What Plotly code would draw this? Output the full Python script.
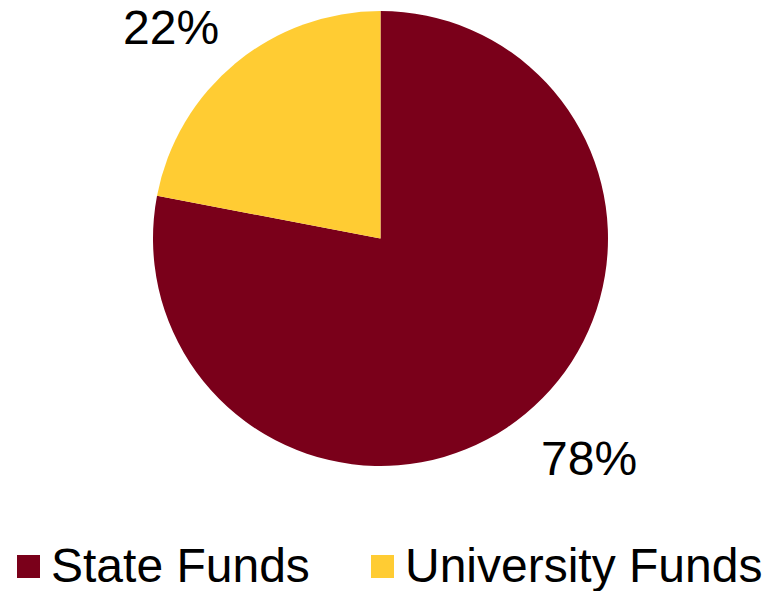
import plotly.graph_objects as go

# Funding split
categories = ["State Funds", "University Funds"]
shares = [78, 22]
colors = ["#7A001A", "#FFCC33"]

W, H = 767, 591
FONT = "Liberation Sans, Arial, sans-serif"
FONT_SIZE = 48

fig = go.Figure(
    go.Pie(
        labels=categories,
        values=shares,
        sort=False,
        direction="clockwise",
        rotation=0,
        marker=dict(colors=colors, line=dict(width=0)),
        textinfo="none",
        hoverinfo="label+percent",
        showlegend=False,
        domain=dict(x=[153 / W, 608 / W], y=[1 - 466 / H, 1 - 11 / H]),
    )
)

# Percentage labels outside the slices
label_pos = [(589, 458), (171, 27)]
annotations = []
for val, (px, py) in zip(shares, label_pos):
    annotations.append(
        dict(
            x=px / W, y=1 - py / H, xref="paper", yref="paper",
            text=f"{val}%", showarrow=False,
            font=dict(family=FONT, size=FONT_SIZE, color="#000000"),
            xanchor="center", yanchor="middle",
        )
    )

# Legend row along the bottom: square swatch + name
legend_x = [17, 371]
shapes = []
for name, col, lx in zip(categories, colors, legend_x):
    shapes.append(
        dict(
            type="rect", xref="paper", yref="paper",
            x0=lx / W, x1=(lx + 23) / W,
            y0=1 - 578 / H, y1=1 - 555 / H,
            fillcolor=col, line=dict(width=0),
        )
    )
    annotations.append(
        dict(
            x=(lx + 32) / W, y=1 - 565 / H, xref="paper", yref="paper",
            text=name, showarrow=False,
            font=dict(family=FONT, size=FONT_SIZE, color="#000000"),
            xanchor="left", yanchor="middle",
        )
    )

fig.update_layout(
    width=W, height=H,
    margin=dict(l=0, r=0, t=0, b=0),
    paper_bgcolor="white", plot_bgcolor="white",
    annotations=annotations,
    shapes=shapes,
    showlegend=False,
)

fig.write_html("out.html")
